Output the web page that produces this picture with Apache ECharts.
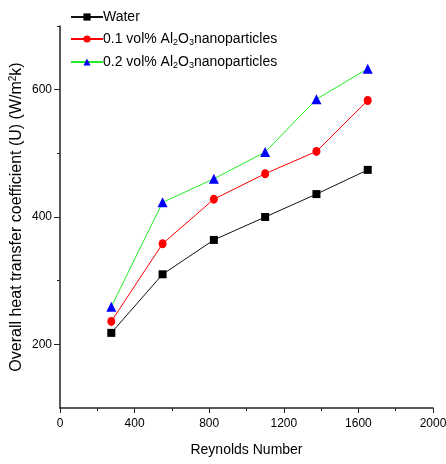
<!DOCTYPE html>
<html>
<head>
<meta charset="utf-8">
<script src="https://cdn.jsdelivr.net/npm/echarts@6/dist/echarts.min.js"></script>
<style>html,body{margin:0;padding:0;background:#fff;}#c{width:446px;height:464px;}</style>
</head>
<body>
<div id="c"></div>
<script>
const reynolds = [275, 550, 825, 1100, 1375, 1650];
const water = [218, 310, 364, 400, 436, 474];
const al01 = [236, 358, 428, 468, 503, 583];
const al02 = [259, 423, 460, 502, 585, 633];
const seriesNames = ['Water', '0.1 vol% Al2O3nanoparticles', '0.2 vol% Al2O3nanoparticles'];
const yMajorTicks = [200, 400, 600];
const yMinorTicks = [300, 500, 700];

const font = 'Liberation Sans, Arial, sans-serif';
const chart = echarts.init(document.getElementById('c'));
function pairs(ys) { return ys.map((y, i) => [reynolds[i], y]); }

chart.setOption({
  animation: false,
  backgroundColor: '#fff',
  grid: { left: 60, right: 13, top: 26, bottom: 56, containLabel: false, outerBoundsMode: 'none' },
  legend: {
    orient: 'vertical', left: 65, top: 5, itemWidth: 32, itemHeight: 9, itemGap: 7,
    data: seriesNames,
    formatter: function (n) {
      if (n === 'Water') return '{a|Water}';
      const p = n.split('Al2O3');
      return '{a|' + p[0] + 'Al}{s|2}{a|O}{s|3}{a|' + p[1] + '}';
    },
    textStyle: {
      fontFamily: font, fontSize: 14, color: '#000', padding: [0, 0, 0, -5],
      rich: {
        a: { fontFamily: font, fontSize: 14, color: '#000', lineHeight: 16, verticalAlign: 'middle' },
        s: { fontFamily: font, fontSize: 9, color: '#000', lineHeight: 16, padding: [7, 0, 0, 0], verticalAlign: 'middle' }
      }
    }
  },
  xAxis: {
    type: 'value', min: 0, max: 2000, interval: 400,
    name: 'Reynolds Number', nameLocation: 'middle', nameGap: 35, nameMoveOverlap: false,
    nameTextStyle: { fontFamily: font, fontSize: 14, color: '#000' },
    axisLine: { show: true, onZero: false, lineStyle: { color: '#222', width: 1.5 } },
    axisTick: { show: true, length: 5, inside: false, lineStyle: { color: '#222' } },
    minorTick: { show: true, splitNumber: 2, length: 3, lineStyle: { color: '#222' } },
    axisLabel: { fontFamily: font, fontSize: 12, color: '#000', margin: 10, formatter: v => String(v) },
    splitLine: { show: false }
  },
  yAxis: [{
    type: 'value', min: 100, max: 700, interval: 100,
    name: '{a|Overall heat transfer coefficient (U) (W/m}{s|2}{a|k)}',
    nameLocation: 'middle', nameGap: 34, nameRotate: 90, nameMoveOverlap: false,
    nameTextStyle: {
      fontFamily: font, fontSize: 16, color: '#000',
      rich: {
        a: { fontFamily: font, fontSize: 16, color: '#000', lineHeight: 18, verticalAlign: 'middle' },
        s: { fontFamily: font, fontSize: 10, color: '#000', lineHeight: 18, padding: [0, 0, 8, 0], verticalAlign: 'middle' }
      }
    },
    axisLine: { show: true, lineStyle: { color: '#222', width: 1.5 } },
    axisTick: { show: true, length: 6, customValues: yMajorTicks, lineStyle: { color: '#222' } },
    axisLabel: { fontFamily: font, fontSize: 12, color: '#000', margin: 8, customValues: yMajorTicks },
    splitLine: { show: false }
  }, {
    type: 'value', min: 100, max: 700, interval: 100, position: 'left',
    axisLine: { show: false },
    axisTick: { show: true, length: 3, customValues: yMinorTicks, lineStyle: { color: '#222' } },
    axisLabel: { show: false },
    splitLine: { show: false }
  }],
  series: [{
    name: seriesNames[0], type: 'line', data: pairs(water),
    symbol: 'rect', symbolSize: 8,
    lineStyle: { color: '#111', width: 1 }, itemStyle: { color: '#000' }
  }, {
    name: seriesNames[1], type: 'line', data: pairs(al01),
    symbol: 'circle', symbolSize: [8, 9],
    lineStyle: { color: '#ff0000', width: 1 }, itemStyle: { color: '#ff0000' }
  }, {
    name: seriesNames[2], type: 'line', data: pairs(al02),
    symbol: 'triangle', symbolSize: 10,
    lineStyle: { color: '#22ee22', width: 1 }, itemStyle: { color: '#0000ff' }
  }]
});
</script>
</body>
</html>
